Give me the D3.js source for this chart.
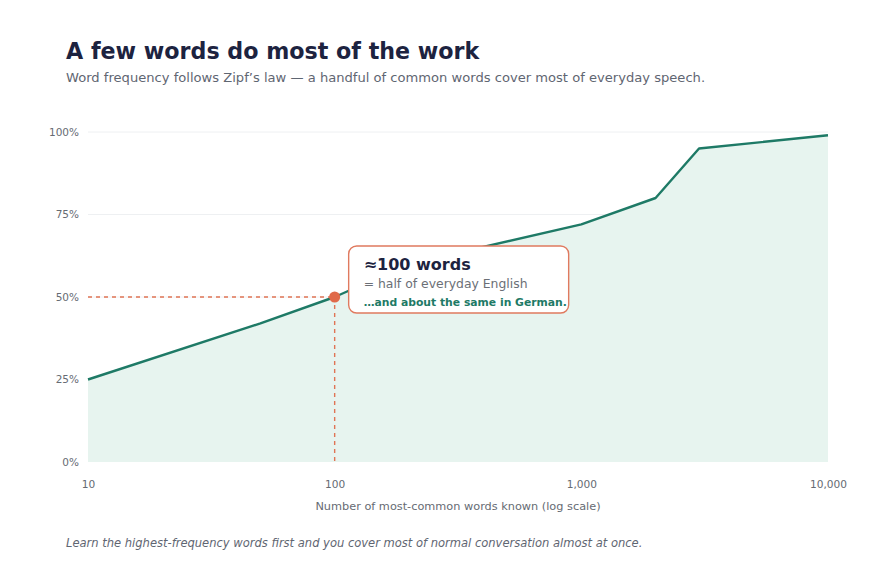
<!DOCTYPE html>
<html>
<head>
<meta charset="utf-8">
<script src="https://cdn.jsdelivr.net/npm/d3@7"></script>
<style>
  body { margin: 0; background: #ffffff; }
  svg { display: block; font-family: "DejaVu Sans", sans-serif; }
</style>
</head>
<body>
<svg id="chart" width="880" height="572"></svg>
<script>
// Data
const words    = [10, 50, 100, 200, 1000, 2000, 3000, 10000];
const coverage = [25, 42, 50, 60, 72, 80, 95, 99];
const xTicks   = [10, 100, 1000, 10000];
const yTicks   = [0, 25, 50, 75, 100];
const highlightWords = 100;
const highlightCoverage = 50;

const data = words.map((w, i) => ({ w, c: coverage[i] }));

const svg = d3.select("#chart");
const margin = { left: 88, right: 52, top: 132, bottom: 110 };
const W = 880, H = 572;

const x = d3.scaleLog().domain([10, 10000]).range([margin.left, W - margin.right]);
const y = d3.scaleLinear().domain([0, 100]).range([H - margin.bottom, margin.top]);

// Title & subtitle
svg.append("text").attr("x", 66).attr("y", 59)
  .attr("font-size", 22.2).attr("font-weight", "bold").attr("fill", "#1d2340")
  .text("A few words do most of the work");
svg.append("text").attr("x", 66).attr("y", 82)
  .attr("font-size", 13.1).attr("fill", "#5f6672")
  .text("Word frequency follows Zipf\u2019s law \u2014 a handful of common words cover most of everyday speech.");

// Gridlines
svg.append("g").selectAll("line").data(yTicks.filter(t => t > 0)).join("line")
  .attr("x1", margin.left).attr("x2", W - margin.right)
  .attr("y1", d => y(d)).attr("y2", d => y(d))
  .attr("stroke", "#eef0f2").attr("stroke-width", 1);

// Area
const area = d3.area().x(d => x(d.w)).y0(y(0)).y1(d => y(d.c));
svg.append("path").datum(data).attr("d", area).attr("fill", "#e7f4ef");

// Line
const line = d3.line().x(d => x(d.w)).y(d => y(d.c));
svg.append("path").datum(data).attr("d", line)
  .attr("fill", "none").attr("stroke", "#1e7a66").attr("stroke-width", 2.4)
  .attr("stroke-linejoin", "round");

// Y axis labels
const yAxis = d3.axisLeft(y).tickValues(yTicks).tickFormat(d => d + "%").tickSize(0).tickPadding(9);
const gy = svg.append("g").attr("transform", `translate(${margin.left},0)`).call(yAxis);
gy.select(".domain").remove();
gy.selectAll("text").attr("font-size", 10.5).attr("fill", "#666b73").attr("font-family", "DejaVu Sans, sans-serif");

// X axis labels
const xAxis = d3.axisBottom(x).tickValues(xTicks).tickFormat(d3.format(",")).tickSize(0).tickPadding(18);
const gx = svg.append("g").attr("transform", `translate(0,${y(0)})`).call(xAxis);
gx.select(".domain").remove();
gx.selectAll("text").attr("font-size", 10.6).attr("fill", "#666b73").attr("font-family", "DejaVu Sans, sans-serif");

svg.append("text").attr("x", (margin.left + W - margin.right) / 2).attr("y", 510)
  .attr("text-anchor", "middle").attr("font-size", 11.3).attr("fill", "#666b73")
  .text("Number of most-common words known (log scale)");

// Highlight dashed lines
const hx = x(highlightWords), hy = y(highlightCoverage);
svg.append("line").attr("x1", margin.left).attr("x2", hx).attr("y1", hy).attr("y2", hy)
  .attr("stroke", "#e07454").attr("stroke-width", 1.4).attr("stroke-dasharray", "4,4");
svg.append("line").attr("x1", hx).attr("x2", hx).attr("y1", hy).attr("y2", y(0))
  .attr("stroke", "#e07454").attr("stroke-width", 1.4).attr("stroke-dasharray", "4,4");
svg.append("circle").attr("cx", hx).attr("cy", hy).attr("r", 5.5).attr("fill", "#e06a4a");

// Annotation box
const bx = hx + 14, by = hy - 51;
svg.append("rect").attr("x", bx).attr("y", by).attr("width", 220).attr("height", 67)
  .attr("rx", 8).attr("fill", "#ffffff").attr("stroke", "#e07a5f").attr("stroke-width", 1.4);
svg.append("text").attr("x", bx + 15).attr("y", by + 24)
  .attr("font-size", 16).attr("font-weight", "bold").attr("fill", "#1d2340").text("\u2248100 words");
svg.append("text").attr("x", bx + 15).attr("y", by + 42)
  .attr("font-size", 12.4).attr("fill", "#6b6f76").text("= half of everyday English");
svg.append("text").attr("x", bx + 15).attr("y", by + 60)
  .attr("font-size", 10.8).attr("font-weight", "bold").attr("fill", "#1e7a66").text("\u2026and about the same in German.");

// Footer
svg.append("text").attr("x", 66).attr("y", 547)
  .attr("font-size", 12.8).attr("font-style", "italic").attr("fill", "#5f6672")
  .attr("font-family", "DejaVu Sans Condensed, DejaVu Sans, sans-serif")
  .attr("font-stretch", "condensed")
  .text("Learn the highest-frequency words first and you cover most of normal conversation almost at once.");
</script>
</body>
</html>
